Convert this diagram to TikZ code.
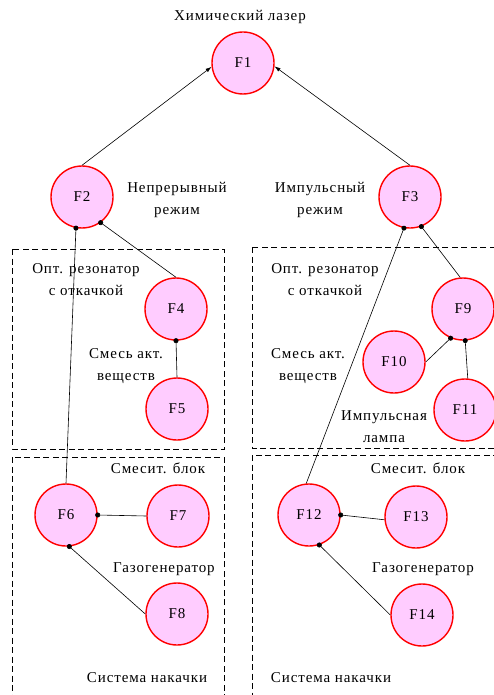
\documentclass[tikz,border=0pt]{standalone}
\usepackage{fontspec}
\setmainfont[LetterSpace=6]{Liberation Serif}
\usetikzlibrary{arrows.meta}

\definecolor{funcfill}{RGB}{255,204,255}

\tikzset{
  func/.style={circle, draw=red, line width=1.4pt, fill=funcfill,
    minimum size=62pt, inner sep=0pt},
  lbl/.style={align=center},
  block/.style={dashed, dash pattern=on 6pt off 3.5pt, line width=0.8pt},
  link/.style={line width=0.6pt},
  dot/.style={link, -{Circle[length=5pt, sep=-2.5pt]}},
}

\begin{document}
\begin{tikzpicture}[x=1pt, y=-1pt, font=\fontsize{15}{22}\selectfont]
\useasboundingbox (0,0) rectangle (494,695);
\clip (0,0) rectangle (494,695);

% blocks
\draw [block] (12,249) rectangle (224,449);
\draw [block] (252,247) rectangle (510,448);
\draw [block] (12,457) rectangle (224,710);
\draw [block] (252,455) rectangle (510,710);

% functions
\node [func] (F1) at (243,63) {F1};
\node [func] (F2) at (82,197) {F2};
\node [func] (F3) at (410,197) {F3};
\node [func] (F4) at (176,309) {F4};
\node [func] (F5) at (177,409) {F5};
\node [func] (F6) at (66,515) {F6};
\node [func] (F7) at (178,516) {F7};
\node [func] (F8) at (177,614) {F8};
\node [func] (F9) at (463,309) {F9};
\node [func] (F10) at (394,362) {F10};
\node [func] (F11) at (465,410) {F11};
\node [func] (F12) at (309,515) {F12};
\node [func] (F13) at (416,517) {F13};
\node [func] (F14) at (422,615) {F14};

% labels
\node [lbl] (laser) at (240,17) {Химический лазер};
\node [lbl] (cont) at (177,200) {Непрерывный\\режим};
\node [lbl] (pulse) at (320,200) {Импульсный\\режим};
\node [lbl] (optL) at (86,280) {Опт. резонатор\\с откачкой};
\node [lbl] (optR) at (325,280) {Опт. резонатор\\с откачкой};
\node [lbl] (mixL) at (126,366) {Смесь акт.\\веществ};
\node [lbl] (mixR) at (308,366) {Смесь акт.\\веществ};
\node [lbl] (lamp) at (384,427) {Импульсная\\лампа};
\node [lbl] (blkL) at (158,468) {Смесит. блок};
\node [lbl] (blkR) at (418,468) {Смесит. блок};
\node [lbl] (gasL) at (164,569) {Газогенератор};
\node [lbl] (gasR) at (423,569) {Газогенератор};
\node [lbl] (pumpL) at (147,678) {Система накачки};
\node [lbl] (pumpR) at (331,678) {Система накачки};

% links
\draw [link, -{Latex[length=6pt, width=4pt]}] (F2.north) -- (F1.187);
\draw [link, -{Latex[length=6pt, width=4pt]}] (F3.north) -- (F1.-6);
\draw [dot] (F4.north) -- (F2.-54);
\draw [dot] (F6.north) -- (F2.-101);
\draw [dot] (F5.north) -- (F4.south);
\draw [dot] (F7.west) -- (F6.east);
\draw [dot] (F8.west) -- (F6.-84);
\draw [dot] (F12.95) -- (F3.-101);
\draw [dot] (F9.95) -- (F3.-69);
\draw [dot] (F10.east) -- (F9.-113);
\draw [dot] (F11.85) -- (F9.-86);
\draw [dot] (F13.185) -- (F12.east);
\draw [dot] (F14.west) -- (F12.-71);
\end{tikzpicture}
\end{document}
